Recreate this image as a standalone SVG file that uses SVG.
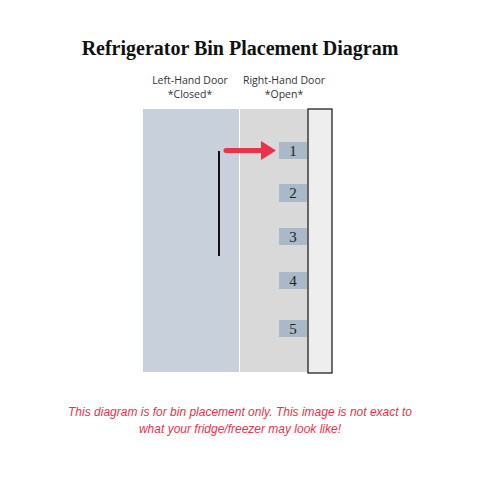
<svg xmlns="http://www.w3.org/2000/svg" width="480" height="480" viewBox="0 0 480 480">
<style>
.lbl{font-family:"Open Sans","DejaVu Sans",sans-serif;font-size:10.5px;fill:#333;text-anchor:middle}
.bin{fill:#a9b9c8}
.num{font-family:"Liberation Serif","DejaVu Serif",serif;font-size:15px;fill:#222;text-anchor:middle}
.note{font-family:"Liberation Sans",Arial,sans-serif;font-style:italic;font-size:12px;fill:#e8334a;text-anchor:middle}
</style>
<rect width="480" height="480" fill="#ffffff"/>
<text x="240" y="55" text-anchor="middle" font-family="'Liberation Serif','DejaVu Serif',serif" font-weight="bold" font-size="20" fill="#111">Refrigerator Bin Placement Diagram</text>
<g id="left-door">
<rect x="143" y="109" width="96" height="263" fill="#c8d1db"/>
<line x1="219" y1="151" x2="219" y2="256" stroke="#111" stroke-width="2"/>
<text class="lbl" x="190" y="84">Left-Hand Door</text>
<text class="lbl" x="190" y="98">*Closed*</text>
</g>
<g id="right-door">
<rect x="240" y="109" width="68" height="263" fill="#d9d9d9"/>
<rect x="308" y="109" width="24" height="264" fill="#eeeeee" stroke="#222" stroke-width="1.3"/>
<text class="lbl" x="284" y="84">Right-Hand Door</text>
<text class="lbl" x="284" y="98">*Open*</text>
</g>
<g id="bin1"><rect class="bin" x="279" y="142" width="28" height="17"/><text class="num" x="293" y="156">1</text></g>
<g id="bin2"><rect class="bin" x="279" y="184" width="28" height="18"/><text class="num" x="293" y="198">2</text></g>
<g id="bin3"><rect class="bin" x="279" y="228" width="28" height="17"/><text class="num" x="293" y="242">3</text></g>
<g id="bin4"><rect class="bin" x="279" y="272" width="28" height="17"/><text class="num" x="293" y="286">4</text></g>
<g id="bin5"><rect class="bin" x="279" y="320" width="28" height="17"/><text class="num" x="293" y="334">5</text></g>
<g id="connectors">
<line x1="226" y1="150.5" x2="263" y2="150.5" stroke="#e8334a" stroke-width="5" stroke-linecap="round"/>
<polygon points="261,141 276,150.5 261,160" fill="#e8334a"/>
</g>
<text class="note" x="240" y="416">This diagram is for bin placement only. This image is not exact to</text>
<text class="note" x="240" y="433">what your fridge/freezer may look like!</text>
</svg>
